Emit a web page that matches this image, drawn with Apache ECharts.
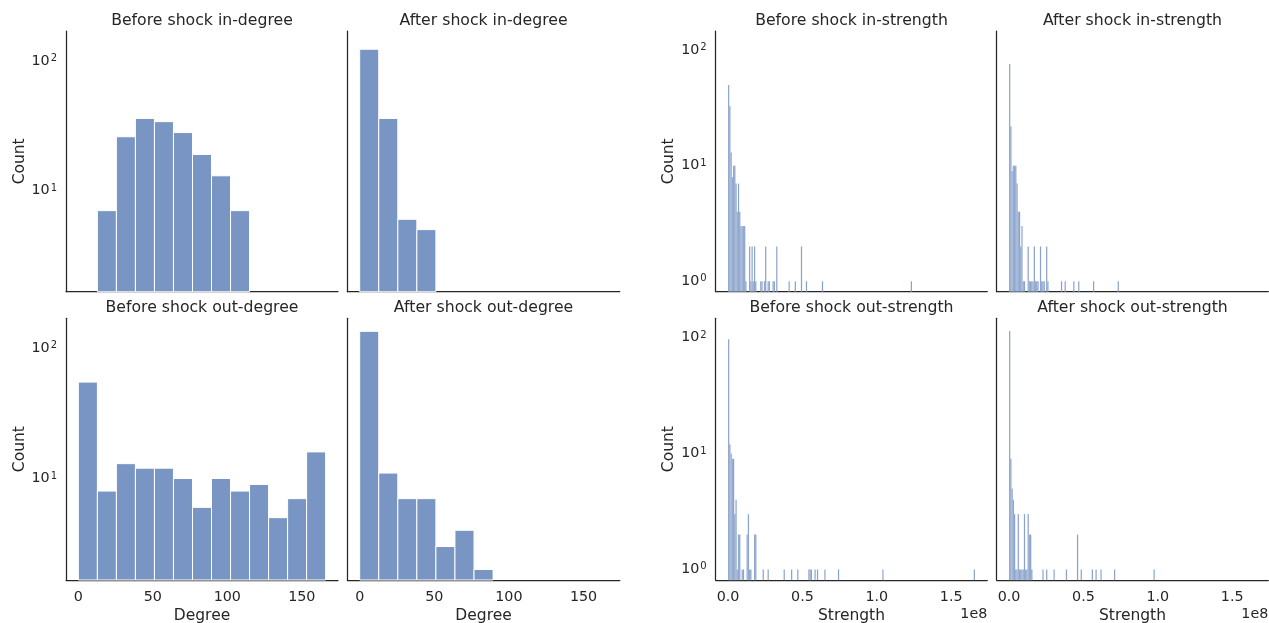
<!DOCTYPE html>
<html>
<head>
<meta charset="utf-8">
<script src="https://cdn.jsdelivr.net/npm/echarts@6/dist/echarts.min.js"></script>
<style>
  html, body { margin: 0; padding: 0; background: #ffffff; }
  #chart { width: 1269px; height: 623px; }
</style>
</head>
<body>
<div id="chart"></div>
<script>
// ---- Degree distributions: 13 equal-width bins over [0, 166] shared by all four panels ----
const degreeBinWidth = 166 / 13;
const inDegreeBeforeFirstBin = 1;
const inDegreeBeforeCounts = [7, 26, 36, 34, 28, 19, 13, 7];
const inDegreeAfterFirstBin = 0;
const inDegreeAfterCounts = [123, 36, 6, 5];
const outDegreeBeforeFirstBin = 0;
const outDegreeBeforeCounts = [55, 8, 13, 12, 12, 10, 6, 10, 8, 9, 5, 7, 16];
const outDegreeAfterFirstBin = 0;
const outDegreeAfterCounts = [135, 11, 7, 7, 3, 4, 2];

// ---- Strength distributions: 200 equal-width bins over [0, 1.66e8]; only non-empty bins listed ----
const strengthBinWidth = 1.66e8 / 200;
const inStrengthBeforeBins   = [0, 1, 2, 3, 4, 5, 6, 7, 8, 9, 10, 11, 12, 13, 14, 17, 18, 19, 20, 21, 22, 26, 27, 29, 30, 32, 33, 36, 37, 39, 49, 54, 59, 63, 76, 148];
const inStrengthBeforeCounts = [50, 33, 13, 8, 10, 10, 7, 4, 7, 4, 3, 3, 3, 3, 1, 2, 1, 2, 1, 2, 1, 1, 1, 1, 2, 1, 1, 1, 1, 2, 1, 1, 2, 1, 1, 1];
const inStrengthAfterBins    = [0, 1, 2, 3, 4, 5, 6, 7, 8, 9, 10, 11, 12, 15, 16, 17, 18, 19, 20, 21, 22, 23, 25, 26, 27, 28, 30, 31, 42, 45, 52, 56, 68, 88];
const inStrengthAfterCounts  = [76, 22, 9, 10, 10, 10, 7, 4, 4, 2, 3, 1, 1, 2, 1, 1, 1, 1, 2, 1, 1, 1, 2, 1, 1, 1, 2, 1, 1, 1, 1, 1, 1, 1];
const outStrengthBeforeBins   = [0, 1, 2, 3, 4, 5, 6, 7, 8, 9, 11, 12, 15, 16, 17, 18, 21, 22, 28, 32, 45, 51, 56, 65, 66, 67, 70, 72, 78, 89, 125, 199];
const outStrengthBeforeCounts = [97, 12, 10, 9, 9, 3, 4, 1, 2, 2, 1, 1, 2, 3, 1, 1, 2, 2, 1, 1, 1, 1, 1, 1, 1, 1, 1, 1, 1, 1, 1, 1];
const outStrengthAfterBins    = [0, 1, 2, 3, 4, 5, 6, 7, 8, 9, 10, 11, 12, 13, 14, 15, 16, 17, 18, 27, 30, 36, 46, 55, 58, 67, 70, 74, 85, 117];
const outStrengthAfterCounts  = [114, 9, 5, 4, 3, 1, 1, 3, 1, 1, 1, 1, 3, 1, 1, 3, 2, 2, 1, 1, 1, 1, 1, 2, 1, 1, 1, 1, 1, 1];

// ---- Axis ranges and tick values ----
const degreeRange = [-8.3, 174.3];
const degreeTicks = [0, 50, 100, 150];
const strengthRange = [-0.083e8, 1.743e8];
const strengthTicks = [0, 0.5e8, 1.0e8, 1.5e8];
const strengthOffsetLabel = '1e8';
const degreeCountRange = [1.66, 170];
const strengthCountRange = [0.81, 147];

// ---- Styling / layout ----
const FONT = 'DejaVu Sans';
const INK = '#262626';
const BAR_FILL = 'rgba(76,114,176,0.75)';
const colLeft = [66, 347.3, 715.7, 996.7];
const colWidth = [272, 272.5, 271.6, 271.6];
const rowTop = [31, 318.3];
const rowHeight = [260.7, 261.7];
const titleMiddle = [20.8, 308.1];

function degreeRows(firstBin, counts) {
  return counts.map((c, i) => [(firstBin + i) * degreeBinWidth, (firstBin + i + 1) * degreeBinWidth, c]);
}
function strengthRows(bins, counts) {
  return bins.map((b, i) => [b * strengthBinWidth, (b + 1) * strengthBinWidth, counts[i]]);
}

const panels = [
  { col: 0, row: 0, kind: 'degree', title: 'Before shock in-degree', data: degreeRows(inDegreeBeforeFirstBin, inDegreeBeforeCounts) },
  { col: 1, row: 0, kind: 'degree', title: 'After shock in-degree', data: degreeRows(inDegreeAfterFirstBin, inDegreeAfterCounts) },
  { col: 0, row: 1, kind: 'degree', title: 'Before shock out-degree', data: degreeRows(outDegreeBeforeFirstBin, outDegreeBeforeCounts) },
  { col: 1, row: 1, kind: 'degree', title: 'After shock out-degree', data: degreeRows(outDegreeAfterFirstBin, outDegreeAfterCounts) },
  { col: 2, row: 0, kind: 'strength', title: 'Before shock in-strength', data: strengthRows(inStrengthBeforeBins, inStrengthBeforeCounts) },
  { col: 3, row: 0, kind: 'strength', title: 'After shock in-strength', data: strengthRows(inStrengthAfterBins, inStrengthAfterCounts) },
  { col: 2, row: 1, kind: 'strength', title: 'Before shock out-strength', data: strengthRows(outStrengthBeforeBins, outStrengthBeforeCounts) },
  { col: 3, row: 1, kind: 'strength', title: 'After shock out-strength', data: strengthRows(outStrengthAfterBins, outStrengthAfterCounts) }
];

function isPowerOfTen(v) {
  const e = Math.log10(v);
  return Math.abs(e - Math.round(e)) < 1e-6;
}
function powerLabel(v) {
  if (!isPowerOfTen(v)) return '';
  return '{b|10}{s|' + Math.round(Math.log10(v)) + '}';
}
function isTick(v, ticks) {
  return ticks.some(t => Math.abs(t - v) < 1e-6 * Math.max(1, Math.abs(t)));
}

function makeRenderer(edgeWidth) {
  return function (params, api) {
    const cs = params.coordSys;
    const c = api.value(2);
    const left = api.coord([api.value(0), c]);
    const right = api.coord([api.value(1), c]);
    const bottom = cs.y + cs.height;
    const shape = echarts.graphic.clipRectByRect(
      { x: left[0], y: left[1], width: right[0] - left[0], height: bottom - left[1] },
      { x: cs.x, y: cs.y, width: cs.width, height: cs.height }
    );
    if (!shape) return null;
    return {
      type: 'rect',
      shape: shape,
      style: { fill: BAR_FILL, stroke: '#ffffff', lineWidth: edgeWidth }
    };
  };
}

const axisLineStyle = { show: true, onZero: false, lineStyle: { color: INK, width: 1.25 } };
const grids = [], xAxes = [], yAxes = [], series = [], graphics = [];

panels.forEach((p, i) => {
  const isDegree = p.kind === 'degree';
  const showX = p.row === 1;
  const showY = p.col % 2 === 0;
  const ticks = isDegree ? degreeTicks : strengthTicks;
  const xr = isDegree ? degreeRange : strengthRange;
  const yr = isDegree ? degreeCountRange : strengthCountRange;

  grids.push({
    left: colLeft[p.col], top: rowTop[p.row],
    width: colWidth[p.col], height: rowHeight[p.row],
    containLabel: false, outerBoundsMode: 'none'
  });

  xAxes.push({
    gridIndex: i, type: 'value', min: xr[0], max: xr[1], splitNumber: 4,
    axisLine: axisLineStyle,
    axisTick: { show: false },
    splitLine: { show: false },
    axisLabel: {
      show: showX, margin: 10.5, color: INK, fontFamily: FONT, fontSize: 14.3,
      customValues: ticks,
      formatter: v => {
        if (!isTick(v, ticks)) return '';
        return isDegree ? String(Math.round(v)) : (v / 1e8).toFixed(1);
      }
    },
    name: showX ? (isDegree ? 'Degree' : 'Strength') : '',
    nameLocation: 'middle', nameGap: 28,
    nameTextStyle: { color: INK, fontFamily: FONT, fontSize: 15.5 }
  });

  yAxes.push({
    gridIndex: i, type: 'log', logBase: 10, min: yr[0], max: yr[1],
    axisLine: axisLineStyle,
    axisTick: { show: false },
    minorTick: { show: false },
    splitLine: { show: false },
    axisLabel: {
      show: showY, margin: 9, formatter: powerLabel,
      showMinLabel: false, showMaxLabel: false,
      rich: {
        b: { fontFamily: FONT, fontSize: 14.3, color: INK, lineHeight: 15, padding: [3, 0, 3, 0] },
        s: { fontFamily: FONT, fontSize: 10, color: INK, lineHeight: 10, padding: [0, 0, 0, 1], verticalAlign: 'top' }
      }
    },
    name: showY ? 'Count' : '',
    nameLocation: 'middle', nameGap: 38,
    nameTextStyle: { color: INK, fontFamily: FONT, fontSize: 15.5 }
  });

  series.push({
    type: 'custom', name: p.title,
    xAxisIndex: i, yAxisIndex: i,
    encode: { x: [0, 1], y: 2 },
    data: p.data,
    renderItem: makeRenderer(isDegree ? 1 : 0.2),
    silent: true
  });

  graphics.push({
    type: 'text',
    x: colLeft[p.col] + colWidth[p.col] / 2,
    y: titleMiddle[p.row],
    style: { text: p.title, fontFamily: FONT, fontSize: 15.7, fill: INK, align: 'center', verticalAlign: 'middle' }
  });

  if (!isDegree && showX) {
    graphics.push({
      type: 'text',
      x: colLeft[p.col] + colWidth[p.col],
      y: 614,
      style: { text: strengthOffsetLabel, fontFamily: FONT, fontSize: 14.3, fill: INK, align: 'right', verticalAlign: 'middle' }
    });
  }
});

const chart = echarts.init(document.getElementById('chart'), null, { renderer: 'canvas' });
chart.setOption({
  backgroundColor: '#ffffff',
  animation: false,
  grid: grids,
  xAxis: xAxes,
  yAxis: yAxes,
  series: series,
  graphic: graphics
});
</script>
</body>
</html>
